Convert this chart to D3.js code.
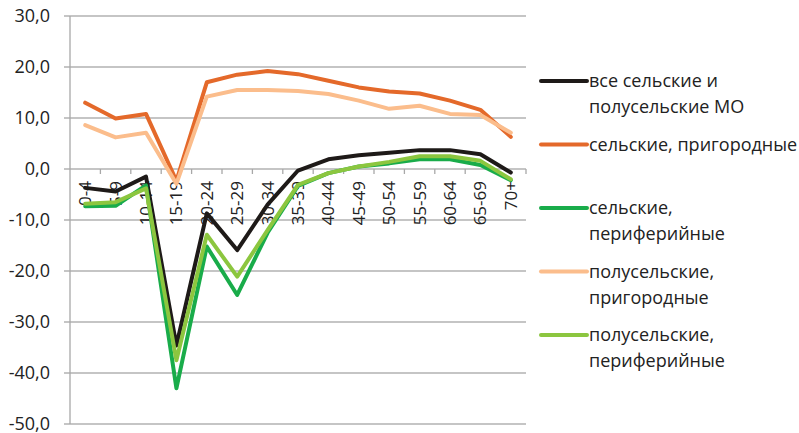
<!DOCTYPE html>
<html>
<head>
<meta charset="utf-8">
<script src="https://cdn.jsdelivr.net/npm/d3@7"></script>
<style>
    body { margin: 0; background: #fff; }
    text { font-family: "Open Sans", sans-serif; fill: #222; }
</style>
</head>
<body>
<svg id="chart" width="799" height="433"></svg>
<script>
// age groups
const categories = ["0-4", "5-9", "10-14", "15-19", "20-24", "25-29", "30-34", "35-39",
    "40-44", "45-49", "50-54", "55-59", "60-64", "65-69", "70+"];

const allRural = [-3.7, -4.4, -1.5, -34.6, -8.7, -15.9, -7.0, -0.3, 1.9, 2.7, 3.2, 3.7, 3.7, 2.9, -0.7];
const ruralSuburban = [13.0, 9.9, 10.8, -2.3, 17.0, 18.5, 19.2, 18.6, 17.3, 16.0, 15.2, 14.8, 13.4, 11.6, 6.3];
const ruralPeripheral = [-7.3, -7.2, -3.2, -43.0, -15.2, -24.7, -12.5, -3.3, -0.8, 0.5, 1.1, 1.9, 1.9, 0.8, -2.2];
const semiSuburban = [8.6, 6.2, 7.1, -2.9, 14.2, 15.5, 15.5, 15.3, 14.7, 13.4, 11.8, 12.4, 10.8, 10.6, 7.1];
const semiPeripheral = [-6.8, -6.5, -3.8, -37.5, -12.9, -21.1, -12.0, -3.1, -0.8, 0.5, 1.4, 2.5, 2.5, 1.6, -2.0];

const yTicks = [-50, -40, -30, -20, -10, 0, 10, 20, 30];

const series = [
    {name: ["все сельские и", "полусельские МО"], color: "#1e1a18", values: allRural},
    {name: ["сельские, пригородные"], color: "#e4692a", values: ruralSuburban},
    {name: ["сельские,", "периферийные"], color: "#19ac4a", values: ruralPeripheral},
    {name: ["полусельские,", "пригородные"], color: "#fbbd8c", values: semiSuburban},
    {name: ["полусельские,", "периферийные"], color: "#8cc63f", values: semiPeripheral}
];

const svg = d3.select("#chart");
const plotLeft = 70, plotRight = 526, plotTop = 16, plotBottom = 424;

const x = d3.scaleBand().domain(categories).range([plotLeft, plotRight]);
const y = d3.scaleLinear().domain([-50, 30]).range([plotBottom, plotTop]);

// gridlines + y ticks
svg.append("g")
    .selectAll("line")
    .data(yTicks)
    .join("line")
    .attr("x1", plotLeft - 6)
    .attr("x2", plotRight)
    .attr("y1", d => y(d))
    .attr("y2", d => y(d))
    .attr("stroke", "#b2b2b2")
    .attr("stroke-width", 1.3);

svg.append("line")
    .attr("x1", plotLeft).attr("x2", plotLeft)
    .attr("y1", plotTop).attr("y2", plotBottom)
    .attr("stroke", "#a8a8a8")
    .attr("stroke-width", 1.3);

svg.append("g")
    .selectAll("text")
    .data(yTicks)
    .join("text")
    .attr("x", 50)
    .attr("y", d => y(d))
    .attr("dy", "0.35em")
    .attr("text-anchor", "end")
    .style("font-size", "18px")
    .text(d => d3.format(".1f")(d).replace(".", ",").replace("−", "-"));

// x axis at zero
const zero = y(0);
svg.append("g")
    .selectAll("line")
    .data(categories)
    .join("line")
    .attr("x1", d => x(d) + x.bandwidth())
    .attr("x2", d => x(d) + x.bandwidth())
    .attr("y1", zero)
    .attr("y2", zero + 5)
    .attr("stroke", "#a8a8a8")
    .attr("stroke-width", 1.3);

svg.append("g")
    .selectAll("text")
    .data(categories)
    .join("text")
    .attr("transform", d => `translate(${x(d) + x.bandwidth() / 2},${zero + 12}) rotate(-90)`)
    .attr("dy", "0.35em")
    .attr("text-anchor", "end")
    .style("font-size", "17px")
    .text(d => d);

// lines
const line = d3.line()
    .x((d, i) => x(categories[i]) + x.bandwidth() / 2)
    .y(d => y(d));

svg.append("g")
    .selectAll("path")
    .data(series)
    .join("path")
    .attr("d", s => line(s.values))
    .attr("fill", "none")
    .attr("stroke", s => s.color)
    .attr("stroke-width", 4)
    .attr("stroke-linejoin", "round")
    .attr("stroke-linecap", "round");

// legend
const legend = svg.append("g")
    .selectAll("g")
    .data(series)
    .join("g")
    .attr("transform", (s, i) => `translate(541,${81 + i * 63.5})`);

legend.append("line")
    .attr("x1", 0).attr("x2", 46)
    .attr("stroke", s => s.color)
    .attr("stroke-width", 4)
    .attr("stroke-linecap", "round");

legend.append("text")
    .attr("x", 48)
    .style("font-size", "18px")
    .selectAll("tspan")
    .data(s => s.name)
    .join("tspan")
    .attr("x", 48)
    .attr("y", (d, i) => i * 26)
    .attr("dy", "0.35em")
    .text(d => d);
</script>
</body>
</html>
